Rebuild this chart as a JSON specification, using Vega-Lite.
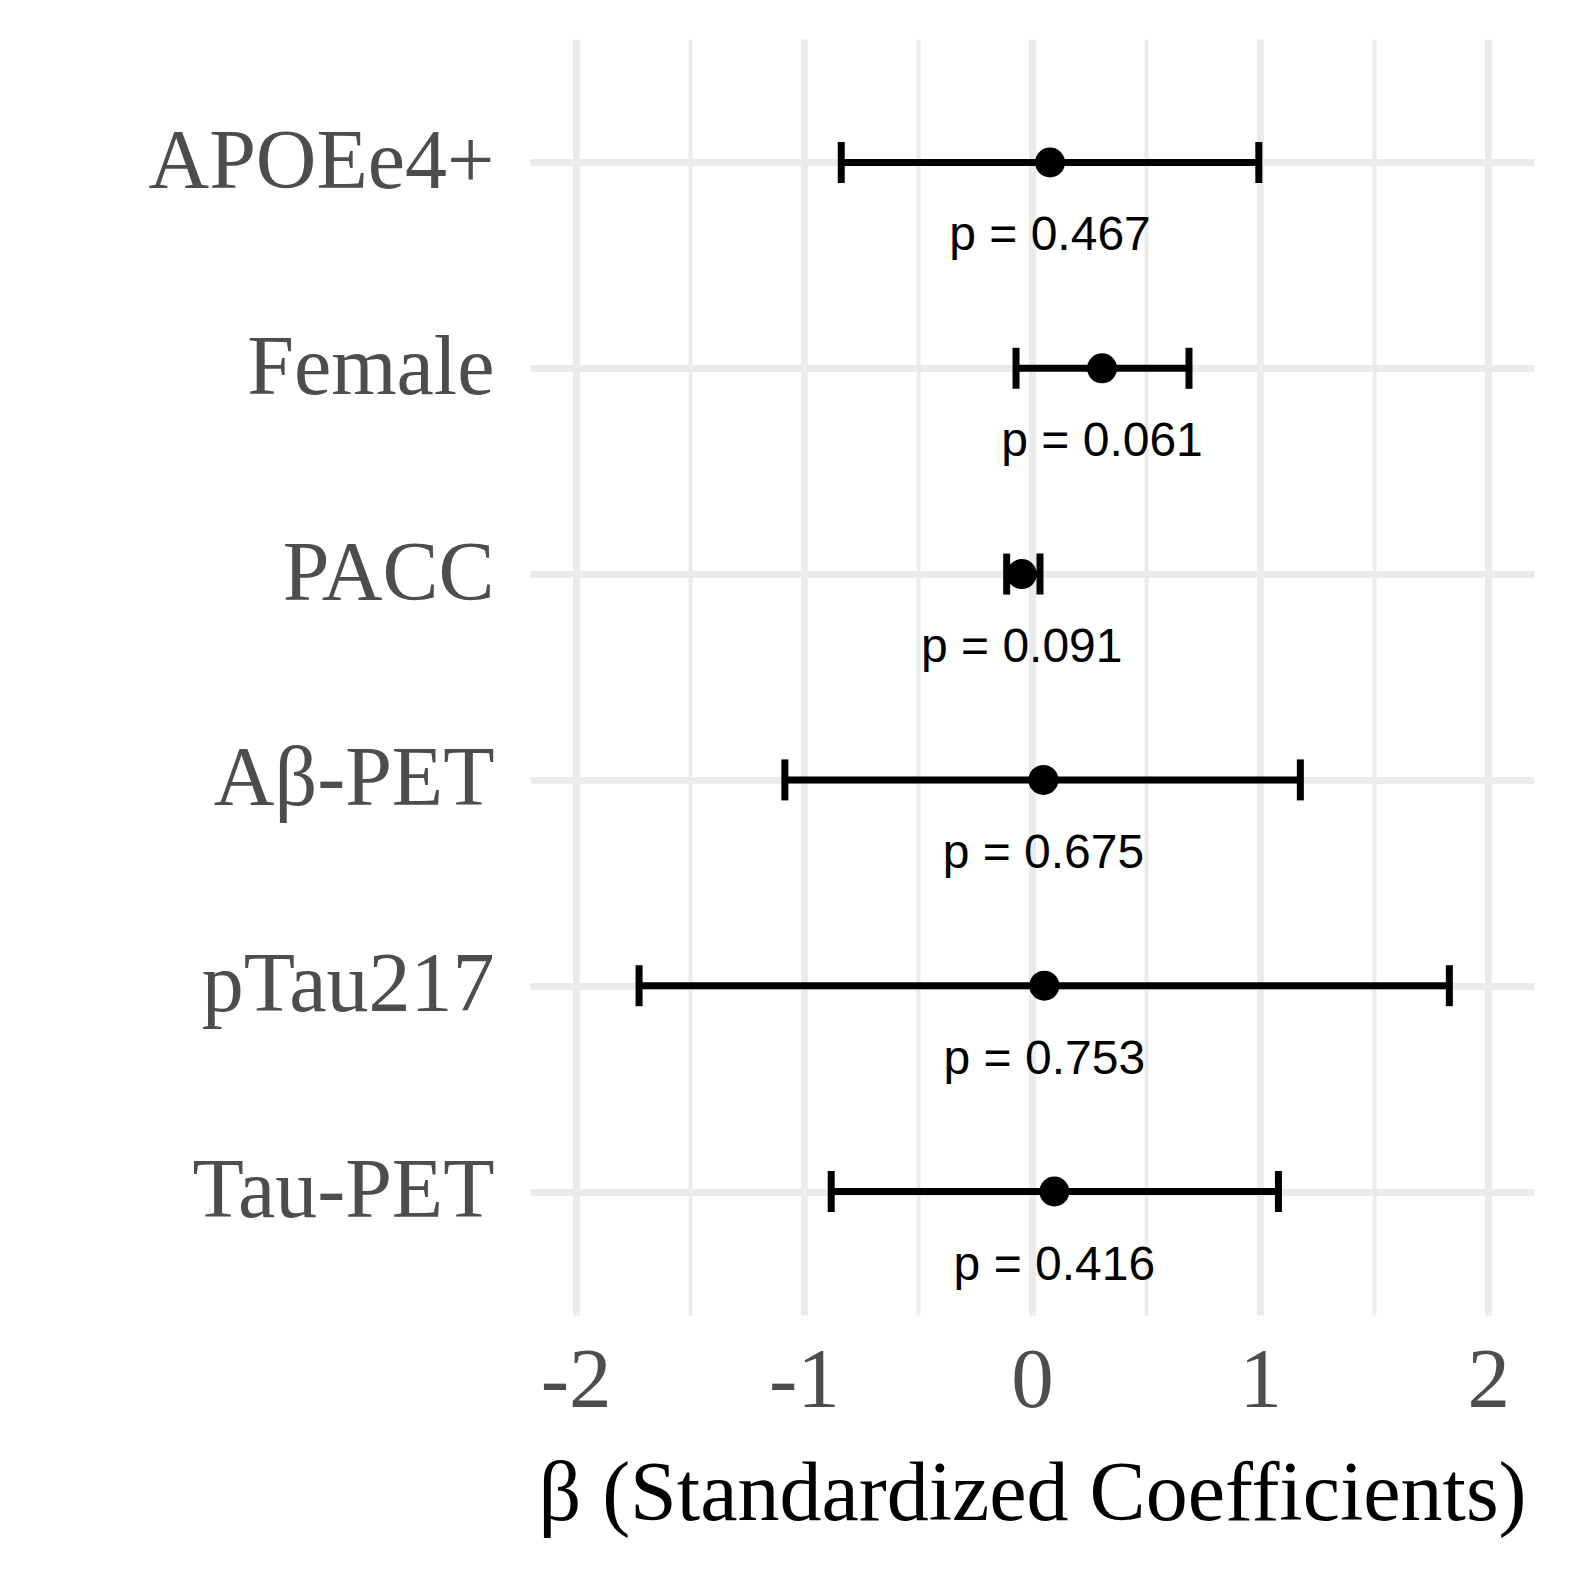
{
  "$schema": "https://vega.github.io/schema/vega-lite/v6.json",
  "width": 1004,
  "height": 1276,
  "autosize": {"type": "none"},
  "padding": {"left": 530, "top": 39, "right": 40, "bottom": 259},
  "background": "white",
  "config": {"view": {"stroke": null}},
  "data": {
    "values": [
      {"term": "APOEe4+", "beta": 0.079, "lo": -0.836, "hi": 0.994, "p": "p = 0.467"},
      {"term": "Female", "beta": 0.307, "lo": -0.070, "hi": 0.688, "p": "p = 0.061"},
      {"term": "PACC", "beta": -0.045, "lo": -0.111, "hi": 0.035, "p": "p = 0.091"},
      {"term": "Aβ-PET", "beta": 0.050, "lo": -1.083, "hi": 1.176, "p": "p = 0.675"},
      {"term": "pTau217", "beta": 0.054, "lo": -1.722, "hi": 1.829, "p": "p = 0.753"},
      {"term": "Tau-PET", "beta": 0.098, "lo": -0.880, "hi": 1.080, "p": "p = 0.416"}
    ]
  },
  "encoding": {
    "y": {
      "field": "term",
      "type": "nominal",
      "sort": null,
      "scale": {"type": "point", "padding": 0.6},
      "axis": {
        "title": null,
        "domain": false,
        "ticks": false,
        "grid": true,
        "gridColor": "#EBEBEB",
        "gridWidth": 7,
        "labelFont": "Liberation Serif",
        "labelFontSize": 84,
        "labelColor": "#4D4D4D",
        "labelPadding": 36,
        "labelLimit": 0
      }
    }
  },
  "layer": [
    {
      "mark": {"type": "rule", "color": "black", "strokeWidth": 7},
      "encoding": {
        "x": {
          "field": "lo",
          "type": "quantitative",
          "scale": {"domain": [-2.2, 2.2], "nice": false, "zero": false},
          "axis": {
            "values": [-2, -1.5, -1, -0.5, 0, 0.5, 1, 1.5, 2],
            "domain": false,
            "ticks": false,
            "grid": true,
            "gridColor": "#EBEBEB",
            "gridWidth": {"condition": {"test": "datum.value % 1 !== 0", "value": 4}, "value": 7},
            "labelExpr": "datum.value % 1 === 0 ? (datum.value < 0 ? '-' + abs(datum.value) : '' + datum.value) : ''",
            "labelFont": "Liberation Serif",
            "labelFontSize": 85,
            "labelColor": "#4D4D4D",
            "labelPadding": 24,
            "title": "β (Standardized Coefficients)",
            "titleFont": "Liberation Serif",
            "titleFontSize": 84,
            "titleFontWeight": "normal",
            "titleColor": "black",
            "titlePadding": 30
          }
        },
        "x2": {"field": "hi"}
      }
    },
    {
      "mark": {"type": "tick", "color": "black", "thickness": 7, "size": 41, "orient": "vertical", "opacity": 1},
      "encoding": {"x": {"field": "lo", "type": "quantitative"}}
    },
    {
      "mark": {"type": "tick", "color": "black", "thickness": 7, "size": 41, "orient": "vertical", "opacity": 1},
      "encoding": {"x": {"field": "hi", "type": "quantitative"}}
    },
    {
      "mark": {"type": "circle", "color": "black", "size": 900, "opacity": 1},
      "encoding": {"x": {"field": "beta", "type": "quantitative"}}
    },
    {
      "mark": {"type": "text", "font": "Liberation Sans", "fontSize": 48, "color": "black", "align": "center", "baseline": "middle", "dy": 74},
      "encoding": {"x": {"field": "beta", "type": "quantitative"}, "text": {"field": "p"}}
    },
    {
      "mark": {"type": "rule", "color": "#BEBEBE", "strokeWidth": 7, "strokeDash": [30, 30]},
      "encoding": {"x": {"datum": 0, "type": "quantitative"}}
    }
  ]
}
